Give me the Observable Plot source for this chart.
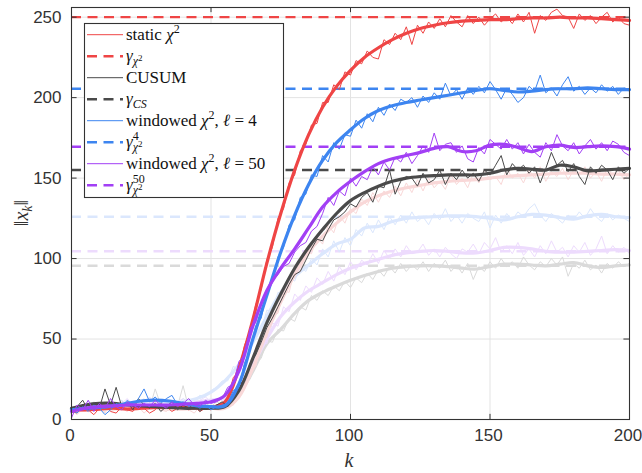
<!DOCTYPE html>
<html><head><meta charset="utf-8">
<script src="https://cdn.jsdelivr.net/npm/d3@7"></script>
<script src="https://cdn.jsdelivr.net/npm/@observablehq/plot@0.6"></script>
<style>body{margin:0;background:#fff} svg{display:block}</style>
</head><body><div id="chart"></div>
<script>
// sample positions
const kThin = d3.range(0, 201, 2);   // 101 samples
const kThick = d3.range(0, 201, 5);  // 41 samples
const xTicks = [0, 50, 100, 150, 200];
const yTicks = [0, 50, 100, 150, 200, 250];

// thresholds
const thrRed = 250, thrCusum = 155, thrBlue = 205.5, thrPurple = 169.5;
const thrFadedBlue = 126, thrFadedPurple = 104.5, thrFadedGray = 95.5;

// static chi2
const redThin = [5,4,8,6,3,7,9,5,4,8,6,5,9,7,4,6,10,8,5,7,9,6,8,5,7,6,9,8,
 14,26,30,46,55,71,81,99,107,125,131,147,152,167,171,183,184,197,197,208,205,216,214,223,221,229,225,224,236,233,240,236,244,233,245,240,247,243,249,244,251,247,244,251,246,250,245,249,252,247,250,246,252,247,253,240,251,248,253,255,251,250,243,252,248,251,246,250,253,247,250,246,245];
const redThick = [6,6,6.5,7,6.5,7,7.5,7.5,7.5,7,7.5,11,32,62,97,128,155,177,194,207,217,225,231,236,240,243,245,246.5,247.5,248,248.5,248.5,249,249.5,249.5,250,249.5,249.5,249,248.5,248];
// windowed l=4
const blueThin = [6,4,8,5,9,7,3,6,10,8,12,9,13,19,11,14,10,13,15,9,11,8,10,7,9,6,8,9,
 10,18,20,35,43,58,63,79,86,101,107,121,124,138,140,152,151,164,160,172,168,177,176,186,181,190,185,194,189,196,192,199,197,200,194,201,197,203,199,209,201,205,199,206,202,207,203,210,205,199,206,202,197,200,207,204,214,203,206,201,208,213,204,207,202,206,203,208,204,207,202,206,204];
const blueThick = [6,7,7.5,8.5,10,11.5,12,11.5,10,8.5,8,8.5,22,50,77,104,127,146,161,172,180,187,192,195,197,198.5,200,201.5,203,204.5,205.5,204.5,203.5,204,205,205.5,205.5,206,205.5,205,205];
// windowed l=50
const purpleThin = [1,9,6,12,5,10,7,13,8,6,11,9,7,10,8,12,9,7,11,8,10,13,9,8,12,10,11,13,
 20,22,36,40,57,60,72,80,86,90,95,97,104,108,110,117,120,128,138,133,142,139,150,145,151,149,157,152,160,155,163,160,166,159,164,170,166,178,167,171,172,166,170,162,160,169,165,174,171,168,174,168,172,165,171,166,163,172,167,177,170,167,172,165,170,174,168,172,167,173,171,166,164];
const purpleThick = [5,7,8,8.5,9,9,9,9,9.5,10,11,15,30,58,80,94,106,119,132,141,148,154,159,162,164,166,168.5,169.5,166.5,167,170.5,171,169,166.5,169.5,170.5,169,169.5,170,169.5,168];
// CUSUM
const cusumThin = [4,8,12,6,10,7,19,9,20,8,11,6,13,9,7,10,5,8,11,6,9,7,10,5,8,6,9,11,
 8,16,22,24,35,40,48,57,63,70,77,84,90,92,99,106,112,111,118,124,126,129,134,132,138,141,135,145,144,155,140,148,151,150,145,153,147,149,155,146,153,149,155,150,153,148,155,152,158,164,152,159,155,158,153,157,147,156,166,158,161,154,159,151,146,157,153,158,155,149,157,153,156];
const cusumThick = [7,9,10,10,9,8.5,8,7.5,7,7,7,8,18,38,60,78,94,107,118,128,136,141,145,148,150,151,151.5,152,152,152,153,155,156,155.5,155,158,157,154.5,155,155.5,156];

// faded (second scenario)
const fRedThin = [6,3,7,9,5,8,4,10,6,7,5,9,8,4,7,11,6,5,8,7,10,6,4,8,9,6,7,10,
 10,9,17,19,31,33,48,51,65,66,80,79,93,92,105,103,113,109,121,116,127,122,131,128,137,133,141,135,142,138,145,139,147,141,149,142,150,144,148,143,152,146,150,144,153,147,155,149,151,146,156,150,153,147,155,150,157,148,154,151,156,149,155,152,157,150,154,148,156,152,155,149,153];
const fRedThick = [6,6,6.5,6.5,7,7,7,6.5,6.5,7,7,7,14,32,54,73,90,104,114,122,129,135,139,142,144,145.5,147,148,148.5,149,150,151,151.5,152,152.5,153,153,153,152.5,152.5,152];
const fBlueThin = [5,8,6,10,7,9,11,6,8,12,9,7,10,13,8,11,9,12,10,8,13,11,12,15,14,18,20,24,
 24,33,31,42,43,54,55,68,67,79,78,88,86,95,92,100,96,106,101,111,104,113,108,118,114,122,116,124,118,126,121,127,122,129,123,126,121,128,124,131,123,127,122,128,125,123,129,119,127,122,128,124,129,126,131,134,127,123,128,125,122,127,124,129,125,131,126,123,128,124,127,125,123];
const fBlueThick = [6,7,8,8,8.5,9,9,10,11,13,17,24,34,48,64,79,89,96,103,109,112,119,120,123,125,125.5,126,126.5,126.5,126,125,124,126,127.5,127,125.5,124.5,126.5,127.5,126,125.5];
const fPurpleThin = [4,7,5,9,6,10,8,12,7,10,13,9,11,8,14,10,9,12,8,11,13,10,9,12,14,11,13,12,
 16,15,24,24,35,33,48,47,60,58,70,67,78,74,83,79,88,84,92,86,95,90,98,93,99,96,103,97,105,100,106,101,108,103,104,109,102,106,101,107,103,100,106,104,109,103,110,106,113,104,108,103,110,102,106,101,108,103,111,104,107,101,108,104,110,102,106,114,103,108,104,107,103];
const fPurpleThick = [5,6,7,8,9,10,10,10,10,11,12,13,20,34,50,64,73,80,85,90,94,97,99.5,102,103.5,104.5,105,104.5,103.5,103.5,105,107,107,106,104.5,104,104,104.5,105,105.5,105];
const fGrayThin = [7,5,9,6,11,8,5,10,7,12,6,9,8,11,7,19,9,6,10,8,21,7,9,6,10,8,11,9,
 12,14,18,24,25,35,38,49,48,56,55,63,61,70,68,77,74,80,77,83,80,86,82,88,85,91,87,93,89,95,91,97,92,96,93,98,92,97,94,99,92,96,91,97,87,95,92,98,94,100,95,98,94,101,96,93,98,95,100,96,101,89,97,94,99,93,96,91,97,94,98,95,97];
const fGrayThick = [6,7,7,7.5,8,8,8,8.5,8.5,8,8,9,16,30,47,56,66,74,79,83,86.5,89.5,92,94,95,95.5,95.5,95,94,93.5,95,96.5,96.5,96,95.5,96.5,97.5,95.5,94.5,95.5,96];

const C = {red:"#ef4545", blue:"#3d85f0", purple:"#a23ff5", gray:"#4a4a4a",
  fRed:"#f9d8d8", fBlue:"#dbe7fd", fPurple:"#eddbfd", fGray:"#dadada"};

const toRows = (ks, vs) => vs.map((v, i) => ({k: ks[i], v}));
function pair(thin, thick, color) {
  return [
    Plot.line(toRows(kThin, thin), {x: "k", y: "v", stroke: color, strokeWidth: 1}),
    Plot.line(toRows(kThick, thick), {x: "k", y: "v", stroke: color, strokeWidth: 3.2, curve: "catmull-rom"})
  ];
}
const dash = (v, color) => Plot.ruleY([v], {stroke: color, strokeWidth: 2.4, strokeDasharray: "10,6.5"});
const tl = 3.2; // tick length in y units

const plot = Plot.plot({
  width: 642, height: 473,
  marginLeft: 71, marginRight: 13, marginTop: 7, marginBottom: 54,
  x: {domain: [0, 200]},
  y: {domain: [0, 256]},
  style: {fontFamily: "'Liberation Sans', Arial, sans-serif", fontSize: "17px", color: "#333", background: "#fff", overflow: "visible"},
  marks: [
    Plot.ruleX(xTicks, {stroke: "#e3e3e3", strokeWidth: 1}),
    Plot.ruleY(yTicks, {stroke: "#e3e3e3", strokeWidth: 1}),
    dash(thrFadedGray, C.fGray), dash(thrFadedPurple, C.fPurple), dash(thrFadedBlue, C.fBlue),
    ...pair(fGrayThin, fGrayThick, C.fGray),
    ...pair(fPurpleThin, fPurpleThick, C.fPurple),
    ...pair(fBlueThin, fBlueThick, C.fBlue),
    ...pair(fRedThin, fRedThick, C.fRed),
    dash(thrRed, C.red), dash(thrCusum, C.gray), dash(thrBlue, C.blue), dash(thrPurple, C.purple),
    ...pair(redThin, redThick, C.red),
    ...pair(cusumThin, cusumThick, C.gray),
    ...pair(blueThin, blueThick, C.blue),
    ...pair(purpleThin, purpleThick, C.purple),
    Plot.frame({stroke: "#333", strokeWidth: 1.1}),
    Plot.ruleX(xTicks, {y1: 0, y2: tl, stroke: "#333"}),
    Plot.ruleX(xTicks, {y1: 256 - tl, y2: 256, stroke: "#333"}),
    Plot.ruleY(yTicks, {x1: 0, x2: 2, stroke: "#333"}),
    Plot.ruleY(yTicks, {x1: 198, x2: 200, stroke: "#333"}),
    Plot.axisX({ticks: xTicks, tickSize: 0, tickPadding: 9, label: null, dx: -1.5}),
    Plot.axisY({ticks: yTicks, tickSize: 0, tickPadding: 10, label: null})
  ]
});
document.getElementById("chart").appendChild(plot);

// legend and math labels
const svg = d3.select(plot);
const serif = "'Liberation Serif', 'DejaVu Serif', serif";
const g = svg.append("g").style("font-family", serif).attr("text-anchor", "start").attr("fill", "#111");
g.append("rect").attr("x", 84.5).attr("y", 23.5).attr("width", 199).attr("height", 174)
  .attr("fill", "#fff").attr("stroke", "#333").attr("stroke-width", 1.1);

const legendRows = [
  {color: C.red, dashed: false, parts: [["static "], ["χ", {it: 1}], ["2", {size: 12, dy: -7}]]},
  {color: C.red, dashed: true, parts: [["γ", {it: 1}], ["χ", {size: 12, dy: 4, it: 1}], ["2", {size: 9, dy: -4}]]},
  {color: C.gray, dashed: false, parts: [["CUSUM"]]},
  {color: C.gray, dashed: true, parts: [["γ", {it: 1}], ["CS", {size: 12, dy: 4, it: 1}]]},
  {color: C.blue, dashed: false, parts: [["windowed "], ["χ", {it: 1}], ["2", {size: 12, dy: -7}], [", ", {dy: 7}], ["ℓ", {it: 1}], [" = 4"]]},
  {color: C.blue, dashed: true, parts: [["γ", {it: 1}], ["4", {size: 12, dy: -7}], ["χ", {size: 12, dx: -6, dy: 11, it: 1}], ["2", {size: 9, dy: -4}]]},
  {color: C.purple, dashed: false, parts: [["windowed "], ["χ", {it: 1}], ["2", {size: 12, dy: -7}], [", ", {dy: 7}], ["ℓ", {it: 1}], [" = 50"]]},
  {color: C.purple, dashed: true, parts: [["γ", {it: 1}], ["50", {size: 12, dy: -7}], ["χ", {size: 12, dx: -12, dy: 11, it: 1}], ["2", {size: 9, dy: -4}]]}
];
legendRows.forEach((r, i) => {
  const y = 34.7 + i * 21.5;
  g.append("line").attr("x1", 87).attr("x2", 123).attr("y1", y).attr("y2", y)
    .attr("stroke", r.color).attr("stroke-width", r.dashed ? 2.4 : 1)
    .attr("stroke-dasharray", r.dashed ? "10,6.5" : null);
  const t = g.append("text").attr("x", 126).attr("y", y + 5)
    .style("font-size", "17px").style("font-family", serif).attr("text-anchor", "start");
  r.parts.forEach(([s, o = {}]) => {
    const ts = t.append("tspan").text(s);
    if (o.it) ts.style("font-style", "italic");
    if (o.size) ts.style("font-size", o.size + "px");
    if (o.dy) ts.attr("dy", o.dy);
    if (o.dx) ts.attr("dx", o.dx);
  });
});

// axis titles
g.append("text").attr("x", 349).attr("y", 467).attr("text-anchor", "middle")
  .style("font-size", "20px").style("font-style", "italic").attr("fill", "#333").text("k");
const yl = g.append("text").attr("transform", "translate(28,213) rotate(-90)")
  .attr("text-anchor", "middle").style("font-size", "20px").attr("fill", "#333");
yl.append("tspan").text("‖");
yl.append("tspan").style("font-style", "italic").text("x");
yl.append("tspan").style("font-style", "italic").style("font-size", "14px").attr("dy", 4).text("k");
yl.append("tspan").attr("dy", -4).text("‖");
</script></body></html>
